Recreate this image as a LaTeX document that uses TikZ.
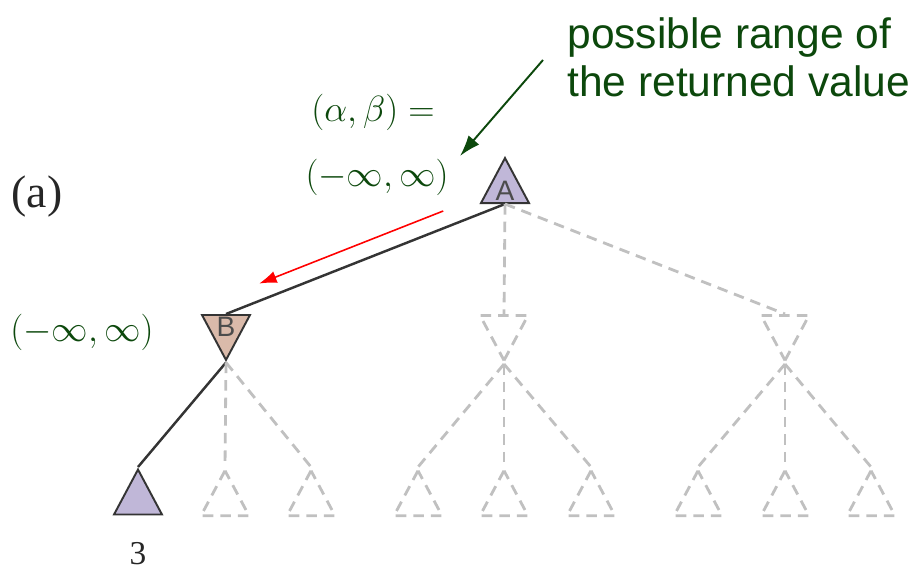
\documentclass[tikz,border=0pt]{standalone}
\usepackage[no-math]{fontspec}
\setmainfont{Liberation Serif}
\setsansfont{Liberation Sans}
\usepackage{amsmath}
\usetikzlibrary{arrows.meta,positioning,shapes.geometric,calc}

\definecolor{maxfill}{RGB}{192,183,216}
\definecolor{minfill}{RGB}{218,186,170}
\definecolor{notegreen}{RGB}{12,72,12}
\definecolor{ghostgray}{RGB}{192,192,192}
\definecolor{edgegray}{RGB}{52,52,52}

\begin{document}
\begin{tikzpicture}[
  x=0.02cm, y=-0.02cm,
  tri/.style={isosceles triangle, isosceles triangle stretches,
              minimum width=0.96cm, minimum height=0.9cm, inner sep=0pt,
              font=\sffamily\fontsize{16}{16}\selectfont, text=black!70},
  maxn/.style={tri, shape border rotate=90, draw=edgegray,
               line width=1.1pt, fill=maxfill},
  minn/.style={tri, shape border rotate=270, draw=edgegray,
               line width=1.1pt, fill=minfill},
  ghostmax/.style={tri, shape border rotate=90, draw=ghostgray,
                   line width=1.6pt, dash pattern=on 6pt off 4pt},
  ghostmin/.style={tri, shape border rotate=270, draw=ghostgray,
                   line width=1.6pt, dash pattern=on 6pt off 4pt},
  seen/.style={draw=edgegray, line width=1.4pt},
  ghost/.style={draw=ghostgray, line width=1.6pt, dash pattern=on 6pt off 4pt},
  rng/.style={text=notegreen, font=\fontsize{21.5}{24}\selectfont},
  note/.style={text=notegreen, align=left, inner sep=0pt,
               font=\sffamily\fontsize{24.2}{27.4}\selectfont},
  descend/.style={draw=red, line width=0.9pt, -{Latex[length=10pt,width=7pt]}},
  pointer/.style={draw=notegreen, line width=1.1pt,
                  -{Latex[length=12pt,width=8pt]}}
]
  \useasboundingbox (0,0) rectangle (918,571);

  % root and the three min nodes
  \node[maxn, anchor=lower side] (A) at (505,204) {A};
  \node[minn, anchor=lower side] (B) at (226,314) {B};
  \node[ghostmin, anchor=lower side] (C) at (504,314) {};
  \node[ghostmin, anchor=lower side] (D) at (785,314) {};

  % leaves
  \node[maxn, anchor=apex] (B1) at (138,467) {};
  \node[ghostmax, anchor=apex] (B2) at (225,467) {};
  \node[ghostmax, anchor=apex] (B3) at (311,467) {};
  \node[ghostmax, anchor=apex] (C1) at (418,467) {};
  \node[ghostmax, anchor=apex] (C2) at (504,467) {};
  \node[ghostmax, anchor=apex] (C3) at (591,467) {};
  \node[ghostmax, anchor=apex] (D1) at (698,467) {};
  \node[ghostmax, anchor=apex] (D2) at (785,467) {};
  \node[ghostmax, anchor=apex] (D3) at (871,467) {};

  \draw[seen] (A.lower side) -- (B.lower side);
  \draw[seen] (B.apex) -- (B1.apex);
  \draw[ghost] (A.lower side) -- (C.lower side);
  \draw[ghost] (A.lower side) -- (D.lower side);
  \foreach \p/\c in {B/B2,B/B3,C/C1,C/C2,C/C3,D/D1,D/D2,D/D3}
    \draw[ghost] (\p.apex) -- (\c.apex);

  % labels
  \node[rng] (ab) at (373,112) {$(\alpha,\beta) =$};
  \node[rng] (rangeA) at (377,177) {$(-\infty,\infty)$};
  \node[rng] (rangeB) at (82,332) {$(-\infty,\infty)$};
  \node[font=\fontsize{26}{28}\selectfont, text=black!85] (tag) at (37,197) {(a)};
  \node[font=\fontsize{19}{20}\selectfont, text=black!85, inner sep=1pt,
        below=0.5cm of B1.lower side] (val) {3};

  \node[note, anchor=west] (note) at (567,57) {possible range of\\the returned value};
  \coordinate (tail) at ([xshift=-0.48cm,yshift=-0.06cm]note.west);
  \coordinate (tip) at (460,156);
  \draw[pointer] (tail) -- (tip);

  \draw[descend] ($(A.lower side)!0.2!(B.lower side)+(-6,-15)$)
              -- ($(A.lower side)!0.86!(B.lower side)+(-6,-15)$);
\end{tikzpicture}
\end{document}
